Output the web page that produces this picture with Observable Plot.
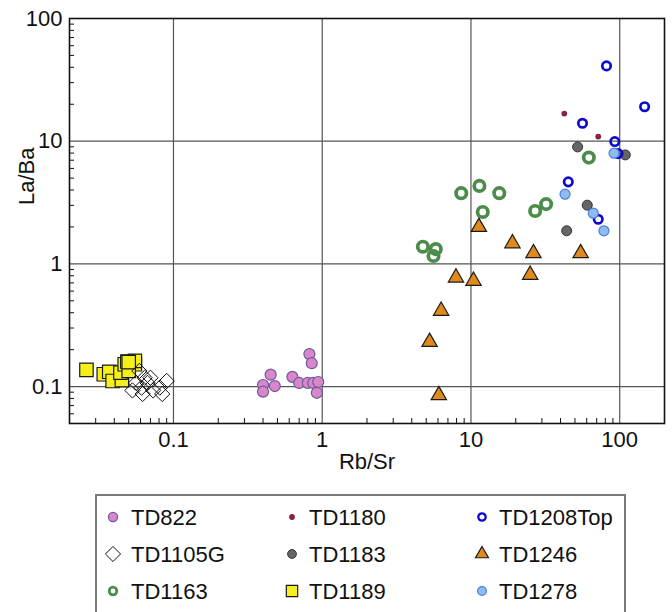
<!DOCTYPE html>
<html><head><meta charset="utf-8">
<script src="https://cdn.jsdelivr.net/npm/d3@7"></script>
<script src="https://cdn.jsdelivr.net/npm/@observablehq/plot@0.6"></script>
<style>
body{margin:0;background:#fff;font-family:"Liberation Sans",Arial,sans-serif;}
#wrap{position:relative;width:672px;height:612px;background:#fff;}
#legend{position:absolute;left:0;top:480px;}
</style></head><body><div id="wrap"><div id="chart"></div><div id="legend"></div></div>
<script>
// ---- data (Rb/Sr on x, La/Ba on y) ----
const td822_rbsr = [0.45, 0.40, 0.40, 0.48, 0.63, 0.70, 0.80, 0.87, 0.94, 0.92, 0.82, 0.85];
const td822_laba = [0.125, 0.103, 0.091, 0.101, 0.120, 0.107, 0.107, 0.107, 0.109, 0.089, 0.184, 0.155];

const td1105g_rbsr = [0.059, 0.064, 0.056, 0.053, 0.061, 0.067, 0.073, 0.081, 0.090, 0.084, 0.062, 0.070];
const td1105g_laba = [0.134, 0.118, 0.107, 0.093, 0.098, 0.107, 0.093, 0.098, 0.111, 0.087, 0.087, 0.118];

const td1163_rbsr = [8.6, 11.4, 15.5, 12.0, 27, 32, 4.75, 5.8, 5.6, 62];
const td1163_laba = [3.77, 4.32, 3.77, 2.65, 2.70, 3.07, 1.38, 1.32, 1.16, 7.35];

const td1180_rbsr = [42.4, 71.7];
const td1180_laba = [16.8, 10.9];

const td1183_rbsr = [52.1, 109, 60.5, 44.0];
const td1183_laba = [8.98, 7.73, 3.01, 1.86];

const td1189_rbsr = [0.026, 0.034, 0.037, 0.039, 0.045, 0.044, 0.047, 0.055, 0.050, 0.055, 0.049, 0.050];
const td1189_laba = [0.137, 0.126, 0.132, 0.111, 0.113, 0.130, 0.152, 0.152, 0.134, 0.162, 0.160, 0.158];

const td1208_rbsr = [81.5, 147, 56.2, 92.7, 97.5, 45.1, 71.7];
const td1208_laba = [41.1, 19.1, 14.0, 9.93, 7.92, 4.66, 2.31];

const td1246_rbsr = [11.3, 19.0, 26.3, 54.6, 7.93, 10.4, 25.0, 6.30, 5.27, 6.08];
const td1246_laba = [2.00, 1.47, 1.22, 1.22, 0.773, 0.727, 0.814, 0.414, 0.231, 0.085];

const td1278_rbsr = [91.6, 42.9, 66.4, 78.3];
const td1278_laba = [7.98, 3.70, 2.59, 1.86];

const majorTicks = [0.1, 1, 10, 100];
const minorX = [0.03,0.04,0.05,0.06,0.07,0.08,0.09, 0.2,0.3,0.4,0.5,0.6,0.7,0.8,0.9, 2,3,4,5,6,7,8,9, 20,30,40,50,60,70,80,90];
const minorY = [0.06,0.07,0.08,0.09, 0.2,0.3,0.4,0.5,0.6,0.7,0.8,0.9, 2,3,4,5,6,7,8,9, 20,30,40,50,60,70,80,90];

// series: name, x, y, symbol, style
const series = [
  {name:"TD1189", x:td1189_rbsr, y:td1189_laba, symbol:"square", r:7.6, fill:"#f5f01c", stroke:"#1a1a1a", sw:1.2, lr:6.4},
  {name:"TD1105G", x:td1105g_rbsr, y:td1105g_laba, symbol:"diamond2", r:6.9, fill:"none", stroke:"#111", sw:1, lr:6.8},
  {name:"TD822", x:td822_rbsr, y:td822_laba, symbol:"circle", r:5.5, fill:"#d987c9", stroke:"#6c5a9c", sw:1.2, lr:4.6},
  {name:"TD1163", x:td1163_rbsr, y:td1163_laba, symbol:"circle", r:5.2, fill:"none", stroke:"#4b8c4b", sw:3.7, lr:3.8},
  {name:"TD1246", x:td1246_rbsr, y:td1246_laba, symbol:"triangle", r:5.7, fill:"#e08a1e", stroke:"#1a1a1a", sw:1.2, lr:4.8},
  {name:"TD1180", x:td1180_rbsr, y:td1180_laba, symbol:"circle", r:2.9, fill:"#8c1f45", stroke:"none", sw:0, lr:2.9},
  {name:"TD1183", x:td1183_rbsr, y:td1183_laba, symbol:"circle", r:5, fill:"#666666", stroke:"#333", sw:1, lr:4.4},
  {name:"TD1208Top", x:td1208_rbsr, y:td1208_laba, symbol:"circle", r:4.2, fill:"none", stroke:"#0b0bd0", sw:2.7, lr:3.7},
  {name:"TD1278", x:td1278_rbsr, y:td1278_laba, symbol:"circle", r:5, fill:"#8fbcef", stroke:"#4a7fe0", sw:1.2, lr:4.4}
];
const legendOrder = ["TD822","TD1180","TD1208Top","TD1105G","TD1183","TD1246","TD1163","TD1189","TD1278"];

const dotMarks = series.map(s => {
  const rows = s.x.map((v, i) => ({rbsr: v, laba: s.y[i]}));
  return Plot.dot(rows, {x:"rbsr", y:"laba", symbol: () => s.symbol, r: s.r, fill: s.fill, stroke: s.stroke, strokeWidth: s.sw});
});

const chart = Plot.plot({
  width: 672, height: 480,
  marginLeft: 69, marginRight: 8, marginTop: 18, marginBottom: 57,
  style: {fontFamily: '"Liberation Sans", Arial, sans-serif', fontSize: "22px", background: "white", color: "#111"},
  x: {type: "log", domain: [0.02, 200]},
  y: {type: "log", domain: [0.05, 100]},
  symbol: {type: "identity"},
  marks: [
    Plot.gridX(majorTicks, {stroke: "#555", strokeOpacity: 1, strokeWidth: 1.2}),
    Plot.gridY(majorTicks, {stroke: "#555", strokeOpacity: 1, strokeWidth: 1.2}),
    Plot.axisX(minorX, {tickSize: 5, dy: -5, tickFormat: () => "", label: null, stroke: "#111"}),
    Plot.axisY(minorY, {tickSize: 5, dx: 5, tickFormat: () => "", label: null, stroke: "#111"}),
    Plot.axisX(majorTicks, {tickSize: 0, tickPadding: 8, tickFormat: d => String(d), label: null, fontSize: 22, fill: "#111"}),
    Plot.axisY(majorTicks, {tickSize: 0, tickPadding: 7, tickFormat: d => String(d), label: null, fontSize: 22, fill: "#111"}),
    Plot.frame({stroke: "#111", strokeWidth: 1.6}),
    ...dotMarks,
    Plot.text(["Rb/Sr"], {frameAnchor: "bottom", dy: 45, fontSize: 22, fill: "#111"}),
    Plot.text(["La/Ba"], {frameAnchor: "left", dx: -43, dy: -16, rotate: -90, fontSize: 22, fill: "#111"})
  ]
});
document.getElementById("chart").appendChild(chart);

// ---- legend ----
const colX = [113, 292, 482], textX = [131, 309, 499], rowY = [37, 74, 111];
const lsvg = d3.select("#legend").append("svg").attr("width", 672).attr("height", 132);
lsvg.append("rect").attr("x", 96).attr("y", 15).attr("width", 529).attr("height", 130)
  .attr("fill", "none").attr("stroke", "#7a7a7a").attr("stroke-width", 2);
const symMap = {circle: d3.symbolCircle, square: d3.symbolSquare, diamond2: d3.symbolDiamond2, triangle: d3.symbolTriangle};
legendOrder.forEach((name, i) => {
  const s = series.find(d => d.name === name);
  const col = i % 3, row = Math.floor(i / 3);
  lsvg.append("path")
    .attr("d", d3.symbol(symMap[s.symbol], Math.PI * s.lr * s.lr)())
    .attr("transform", `translate(${colX[col]},${rowY[row]})`)
    .attr("fill", s.fill).attr("stroke", s.stroke).attr("stroke-width", s.name === "TD1163" ? 2.8 : s.name === "TD1208Top" ? 2.3 : s.sw);
  lsvg.append("text").attr("x", textX[col]).attr("y", rowY[row] + 8)
    .attr("font-size", 22).attr("fill", "#111")
    .attr("font-family", '"Liberation Sans", Arial, sans-serif').text(name);
});
</script></body></html>
